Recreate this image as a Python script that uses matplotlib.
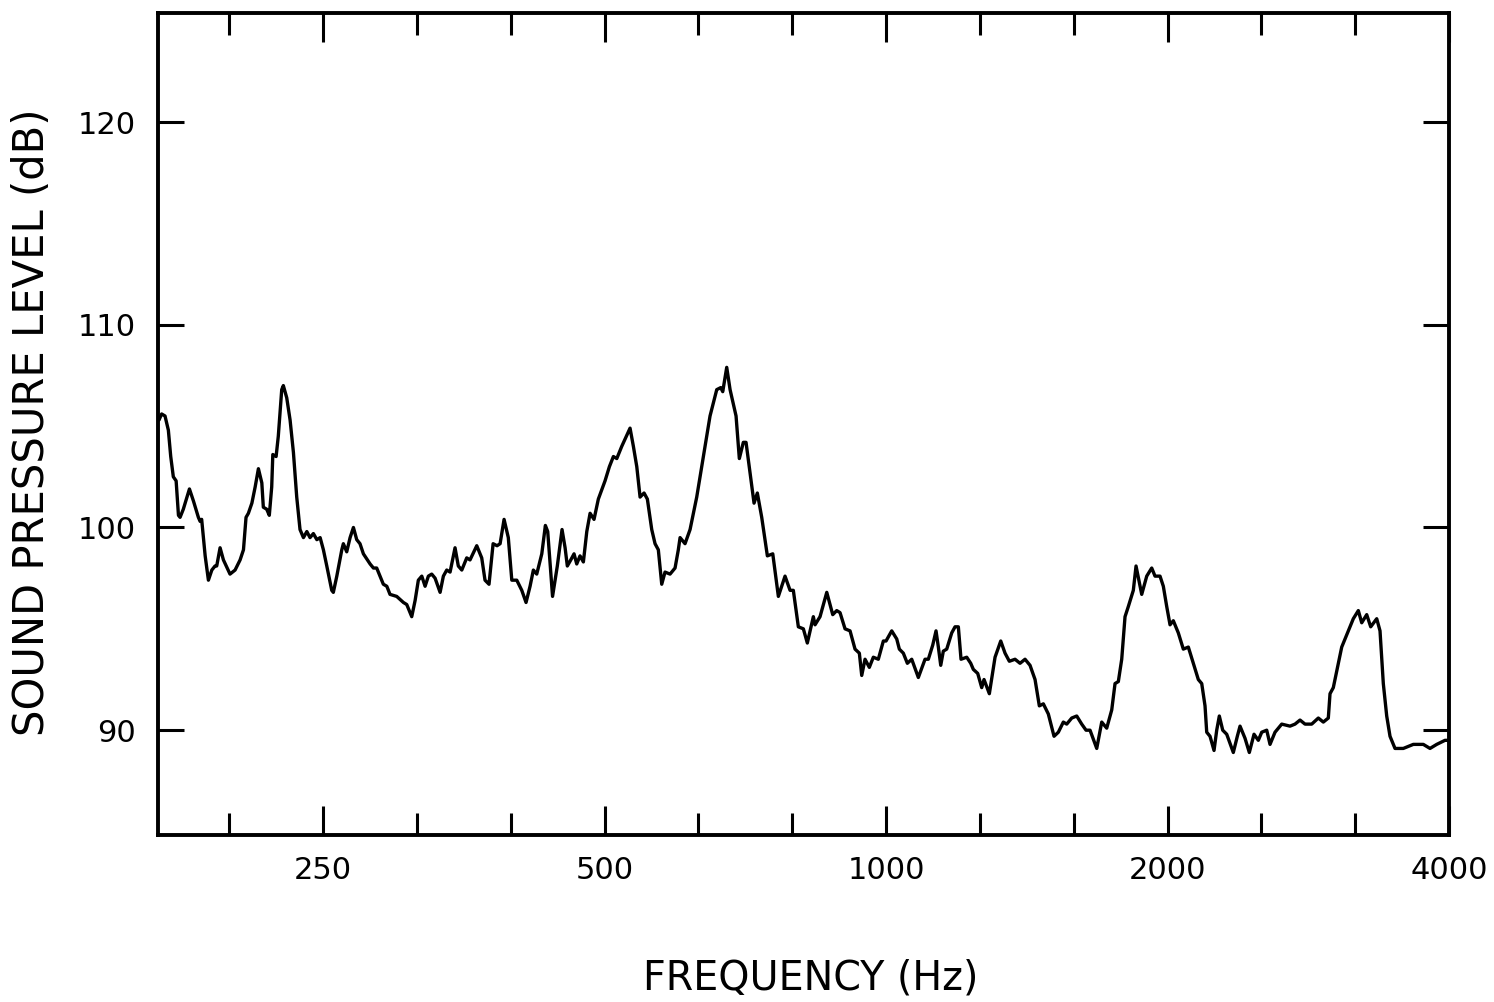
import matplotlib
matplotlib.use("Agg")
import matplotlib.pyplot as plt
from matplotlib.ticker import FixedLocator, NullFormatter

# Measured spectrum: frequency (Hz) and sound pressure level (dB)
freq_hz = [
    166.9, 168.0, 169.4, 170.8, 171.8, 172.9, 174.1, 175.1, 175.8, 177.2,
    179.9, 181.7, 183.9, 184.7, 185.4, 187.0, 188.5, 190.1, 191.6, 192.4,
    194.0, 195.6, 198.8, 201.3, 203.8, 205.5, 206.8, 208.0, 209.8, 211.5,
    213.2, 215.0, 215.8, 217.6, 219.0, 220.3, 220.9, 222.7, 223.9, 225.8,
    226.7, 228.6, 230.5, 232.4, 234.3, 236.2, 238.2, 240.2, 242.1, 244.1,
    246.2, 248.2, 250.2, 252.3, 255.4, 256.4, 258.6, 261.8, 262.8, 265.0,
    267.2, 269.4, 271.6, 273.8, 276.1, 280.7, 283.0, 285.3, 290.0, 292.5,
    294.8, 299.7, 304.7, 307.2, 311.0, 313.6, 316.1, 318.8, 321.4, 324.0,
    326.7, 329.4, 333.5, 336.2, 339.0, 341.8, 346.0, 348.8, 351.8, 356.1,
    359.0, 365.0, 369.5, 372.5, 376.2, 380.0, 383.7, 386.6, 390.4, 394.5,
    397.9, 402.8, 407.8, 412.1, 416.2, 419.6, 423.1, 428.4, 432.2, 434.7,
    439.9, 445.1, 450.3, 453.7, 456.2, 460.1, 463.8, 466.9, 470.7, 474.6,
    478.6, 482.5, 487.2, 492.4, 500.6, 506.0, 511.0, 515.3, 521.6, 532.4,
    536.8, 541.3, 545.7, 551.1, 555.6, 561.6, 566.2, 570.8, 575.6, 580.3,
    587.5, 594.8, 599.6, 602.2, 609.6, 617.2, 627.4, 637.7, 648.3, 659.1,
    665.6, 668.9, 675.5, 681.1, 686.6, 691.2, 696.8, 703.7, 708.4, 715.4,
    722.5, 728.4, 736.3, 746.6, 756.6, 767.1, 779.8, 789.5, 795.9, 805.8,
    815.8, 823.8, 836.1, 839.6, 850.0, 864.2, 877.0, 885.7, 892.9, 904.0,
    915.2, 926.5, 936.4, 941.9, 949.6, 959.7, 969.2, 981.2, 993.4, 1000.0,
    1014.1, 1026.7, 1033.3, 1043.5, 1053.9, 1065.3, 1082.8, 1100.8, 1109.8, 1121.9,
    1131.0, 1137.5, 1144.2, 1151.5, 1161.2, 1175.6, 1185.2, 1194.9, 1202.8, 1219.8,
    1231.9, 1239.8, 1253.3, 1265.7, 1272.9, 1289.7, 1307.9, 1326.4, 1340.5, 1354.8,
    1373.9, 1390.9, 1408.2, 1425.6, 1443.3, 1458.6, 1473.1, 1491.3, 1512.4, 1528.5,
    1547.4, 1560.4, 1579.8, 1599.3, 1619.1, 1636.4, 1652.6, 1680.1, 1700.9, 1721.9,
    1743.3, 1757.5, 1771.9, 1786.7, 1801.3, 1816.0, 1838.5, 1850.8, 1876.9, 1900.2,
    1923.7, 1939.4, 1963.4, 1979.5, 1996.1, 2012.4, 2028.8, 2053.9, 2079.4, 2105.2,
    2131.2, 2157.6, 2175.8, 2193.5, 2202.7, 2220.7, 2242.7, 2257.6, 2272.1, 2291.2,
    2313.9, 2351.8, 2375.1, 2391.0, 2420.6, 2446.3, 2474.8, 2501.2, 2522.2, 2553.4,
    2574.3, 2606.1, 2649.5, 2704.2, 2737.7, 2771.6, 2806.0, 2852.6, 2899.4, 2935.3,
    2971.6, 2984.1, 3008.4, 3045.7, 3071.3, 3121.6, 3160.3, 3199.5, 3226.4, 3266.3,
    3298.6, 3347.8, 3375.1, 3402.6, 3431.2, 3459.2, 3502.0, 3574.3, 3663.4, 3754.7,
    3817.2, 3880.7, 3960.8, 4000.0,
]

spl_db = [
    105.3, 105.6, 105.5, 104.8, 103.5, 102.5, 102.3, 100.6, 100.5, 100.9,
    101.9, 101.3, 100.5, 100.3, 100.4, 98.6, 97.4, 97.9, 98.1, 98.1,
    99.0, 98.4, 97.7, 97.9, 98.4, 98.9, 100.5, 100.7, 101.2, 102.0,
    102.9, 102.2, 101.0, 100.9, 100.6, 102.0, 103.6, 103.5, 104.5, 106.8,
    107.0, 106.4, 105.3, 103.7, 101.5, 99.9, 99.5, 99.8, 99.5, 99.7,
    99.4, 99.5, 98.9, 98.1, 96.9, 96.8, 97.6, 98.9, 99.2, 98.8,
    99.5, 100.0, 99.4, 99.2, 98.7, 98.2, 98.0, 98.0, 97.2, 97.1,
    96.7, 96.6, 96.3, 96.2, 95.6, 96.4, 97.4, 97.6, 97.1, 97.6,
    97.7, 97.5, 96.8, 97.6, 97.9, 97.8, 99.0, 98.1, 97.9, 98.5,
    98.4, 99.1, 98.5, 97.4, 97.2, 99.2, 99.1, 99.2, 100.4, 99.5,
    97.4, 97.4, 96.9, 96.3, 97.1, 97.9, 97.7, 98.7, 100.1, 99.8,
    96.6, 98.1, 99.9, 99.0, 98.1, 98.4, 98.7, 98.2, 98.6, 98.3,
    99.8, 100.7, 100.4, 101.4, 102.3, 103.0, 103.5, 103.4, 104.0, 104.9,
    104.0, 103.0, 101.5, 101.7, 101.4, 99.9, 99.2, 98.9, 97.2, 97.8,
    97.7, 98.0, 98.9, 99.5, 99.2, 99.9, 101.5, 103.5, 105.5, 106.8,
    106.9, 106.7, 107.9, 106.8, 106.1, 105.5, 103.4, 104.2, 104.2, 102.7,
    101.2, 101.7, 100.5, 98.6, 98.7, 96.6, 97.6, 96.9, 96.9, 95.1,
    95.0, 94.3, 95.6, 95.2, 95.6, 96.8, 95.7, 95.9, 95.8, 95.0,
    94.9, 94.0, 93.8, 92.7, 93.5, 93.1, 93.6, 93.5, 94.4, 94.4,
    94.9, 94.5, 94.0, 93.8, 93.3, 93.5, 92.6, 93.5, 93.5, 94.2,
    94.9, 94.1, 93.2, 93.9, 94.0, 94.8, 95.1, 95.1, 93.5, 93.6,
    93.3, 93.0, 92.8, 92.1, 92.5, 91.8, 93.6, 94.4, 93.8, 93.4,
    93.5, 93.3, 93.5, 93.2, 92.5, 91.2, 91.3, 90.8, 89.7, 89.9,
    90.4, 90.3, 90.6, 90.7, 90.3, 90.0, 90.0, 89.1, 90.4, 90.1,
    91.0, 92.3, 92.4, 93.5, 95.6, 96.1, 96.9, 98.1, 96.7, 97.6,
    98.0, 97.6, 97.6, 97.1, 96.1, 95.2, 95.4, 94.8, 94.0, 94.1,
    93.3, 92.5, 92.3, 91.2, 89.9, 89.7, 89.0, 90.0, 90.7, 90.0,
    89.8, 88.9, 89.7, 90.2, 89.6, 88.9, 89.8, 89.5, 89.9, 90.0,
    89.3, 89.9, 90.3, 90.2, 90.3, 90.5, 90.3, 90.3, 90.6, 90.4,
    90.6, 91.8, 92.1, 93.3, 94.1, 94.9, 95.5, 95.9, 95.3, 95.7,
    95.1, 95.5, 94.9, 92.3, 90.7, 89.7, 89.1, 89.1, 89.3, 89.3,
    89.1, 89.3, 89.5, 89.5,
]

octave_ticks = [250, 500, 1000, 2000, 4000]
octave_labels = ["250", "500", "1000", "2000", "4000"]
# one-third-octave divisions between the labelled octaves
third_octave_ticks = [198.4, 315.0, 396.9, 630.0, 793.7, 1260.0, 1587.4, 2519.8, 3174.8]
level_ticks = [90, 100, 110, 120]
level_labels = ["90", "100", "110", "120"]

fig = plt.figure(figsize=(14.94, 10.02), dpi=100)
ax = fig.add_axes([0.10576, 0.16667, 0.86412, 0.82036])

ax.plot(freq_hz, spl_db, color="black", linewidth=2.4,
        solid_joinstyle="round", solid_capstyle="round")

ax.set_xscale("log")
ax.set_xlim(166.5, 4000)
ax.set_ylim(84.83, 125.38)

ax.xaxis.set_major_locator(FixedLocator(octave_ticks))
ax.xaxis.set_minor_locator(FixedLocator(third_octave_ticks))
ax.set_xticklabels(octave_labels)
ax.xaxis.set_minor_formatter(NullFormatter())
ax.yaxis.set_major_locator(FixedLocator(level_ticks))
ax.set_yticklabels(level_labels)
ax.yaxis.set_minor_locator(FixedLocator([]))

for side in ax.spines.values():
    side.set_linewidth(2.8)
    side.set_color("black")

ax.tick_params(axis="x", which="major", direction="in", top=True, bottom=True,
               length=21, width=2.2, labelsize=22, pad=15, colors="black")
ax.tick_params(axis="x", which="minor", direction="in", top=True, bottom=True,
               length=15.5, width=2.2)
ax.tick_params(axis="y", which="major", direction="in", left=True, right=True,
               length=19, width=2.2, labelsize=22, pad=16, colors="black")

ax.set_xlabel("FREQUENCY (Hz)", fontsize=28.5, fontweight="medium")
ax.set_ylabel("SOUND PRESSURE LEVEL (dB)", fontsize=30, fontweight="medium")
ax.xaxis.label.set_va("center")
ax.yaxis.label.set_va("center")
ax.xaxis.set_label_coords(0.5058, -0.174)
ax.yaxis.set_label_coords(-0.0976, 0.5024)

fig.savefig("out.png", dpi=100, facecolor="white")
